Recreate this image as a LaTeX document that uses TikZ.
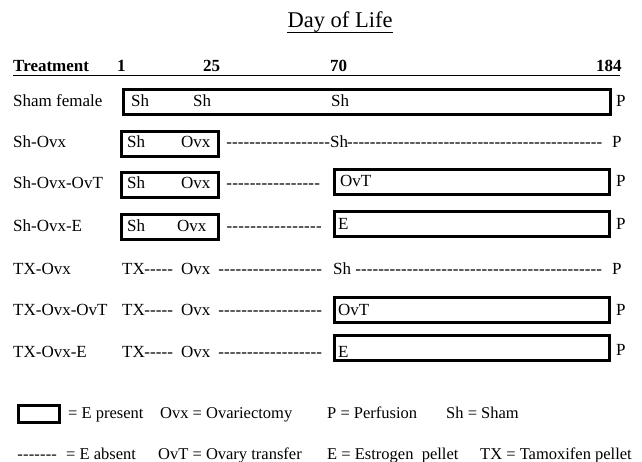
\documentclass[tikz,border=0pt]{standalone}
\usepackage{fontspec}
\setmainfont{Liberation Serif}
\usetikzlibrary{calc}
\newcommand\hy[1]{\hbox to #1pt{\xleaders\hbox{-}\hfill}}
\begin{document}
\begin{tikzpicture}[x=1pt,y=-1pt,
  txt/.style={anchor=base west,inner sep=0pt,font=\fontsize{17}{19}\selectfont},
  leg/.style={anchor=base west,inner sep=0pt,font=\fontsize{16.5}{18}\selectfont},
  hdr/.style={txt,font=\fontsize{17}{19}\selectfont\bfseries},
  ebox/.style={draw,line width=2.6pt,inner sep=0pt}]
\useasboundingbox (0,0) rectangle (642,462);
% title
\node[anchor=base,inner sep=0pt,font=\fontsize{22.5}{25}\selectfont] (title) at (340,28) {Day of Life};
\draw[line width=1pt] ($(title.base west)+(0,4.5)$) -- ($(title.base east)+(0,4.5)$);
% header
\node[hdr] (h0) at (13,72) {Treatment};
\node[hdr] (h1) at (117,72) {1};
\node[hdr] (h25) at (203,72) {25};
\node[hdr] (h70) at (330,72) {70};
\node[hdr] (h184) at (596,72) {184};
\draw[line width=1pt] (13,75.5) -- (620,75.5);
% row 1
\node[txt] (l1) at (13,107) {Sham female};
\node[ebox,minimum width=487pt,minimum height=25pt,anchor=north west] (b1) at (122,88) {};
\node[txt] (r1a) at (131,107) {Sh};
\node[txt] (r1b) at (193,107) {Sh};
\node[txt] (r1c) at (331,107) {Sh};
\node[txt] (p1) at (616,107) {P};
% row 2
\node[txt] (l2) at (13,148) {Sh-Ovx};
\node[ebox,minimum width=97pt,minimum height=25pt,anchor=north west] (b2) at (120,130) {};
\node[txt] (r2a) at (127,148) {Sh};
\node[txt] (r2b) at (181,148) {Ovx};
\node[txt] (r2d1) at (226,148) {\hy{104}};
\node[txt] (r2c) at (330,148) {Sh};
\node[txt] (r2d2) at (347,148) {\hy{255}};
\node[txt] (p2) at (612,148) {P};
% row 3
\node[txt] (l3) at (13,189) {Sh-Ovx-OvT};
\node[ebox,minimum width=97pt,minimum height=25pt,anchor=north west] (b3a) at (120,171) {};
\node[txt] (r3a) at (127,189) {Sh};
\node[txt] (r3b) at (181,189) {Ovx};
\node[txt] (r3d) at (226,189) {\hy{94}};
\node[ebox,minimum width=275pt,minimum height=25pt,anchor=north west] (b3b) at (333,168) {};
\node[txt] (r3c) at (340,187) {OvT};
\node[txt] (p3) at (616,187) {P};
% row 4
\node[txt] (l4) at (13,232) {Sh-Ovx-E};
\node[ebox,minimum width=97pt,minimum height=25pt,anchor=north west] (b4a) at (120,213) {};
\node[txt] (r4a) at (127,232) {Sh};
\node[txt] (r4b) at (177,232) {Ovx};
\node[txt] (r4d) at (226,232) {\hy{96}};
\node[ebox,minimum width=275pt,minimum height=25pt,anchor=north west] (b4b) at (333,210) {};
\node[txt] (r4c) at (338,230) {E};
\node[txt] (p4) at (616,230) {P};
% row 5
\node[txt] (l5) at (13,274) {TX-Ovx};
\node[txt] (r5a) at (122,274) {TX};
\node[txt] (r5d1) at (144,274) {\hy{29}};
\node[txt] (r5b) at (181,274) {Ovx};
\node[txt] (r5d2) at (218,274) {\hy{104}};
\node[txt] (r5c) at (333,274) {Sh};
\node[txt] (r5d3) at (355,274) {\hy{247}};
\node[txt] (p5) at (612,274) {P};
% row 6
\node[txt] (l6) at (13,315) {TX-Ovx-OvT};
\node[txt] (r6a) at (122,315) {TX};
\node[txt] (r6d1) at (144,315) {\hy{29}};
\node[txt] (r6b) at (181,315) {Ovx};
\node[txt] (r6d2) at (218,315) {\hy{104}};
\node[ebox,minimum width=275pt,minimum height=25pt,anchor=north west] (b6) at (333,296) {};
\node[txt] (r6c) at (338,315) {OvT};
\node[txt] (p6) at (616,315) {P};
% row 7
\node[txt] (l7) at (13,357) {TX-Ovx-E};
\node[txt] (r7a) at (122,357) {TX};
\node[txt] (r7d1) at (144,357) {\hy{29}};
\node[txt] (r7b) at (181,357) {Ovx};
\node[txt] (r7d2) at (218,357) {\hy{104}};
\node[ebox,minimum width=275pt,minimum height=25pt,anchor=north west] (b7) at (333,334) {};
\node[txt] (r7c) at (338,357) {E};
\node[txt] (p7) at (616,355) {P};
% legend
\node[ebox,minimum width=41pt,minimum height=17pt,anchor=north west] (lb) at (17,404) {};
\node[leg] (g1) at (68,418) {= E present};
\node[leg] (g2) at (160,418) {Ovx = Ovariectomy};
\node[leg] (g3) at (327,418) {P = Perfusion};
\node[leg] (g4) at (446,418) {Sh = Sham};
\node[leg] (g5a) at (17,459) {\hy{40}};
\node[leg] (g5) at (66,459) {= E absent};
\node[leg] (g6) at (158,459) {OvT = Ovary transfer};
\node[leg] (g7) at (327,459) {E = Estrogen\ \ pellet};
\node[leg] (g8) at (480,459) {TX = Tamoxifen pellet};
\end{tikzpicture}
\end{document}
